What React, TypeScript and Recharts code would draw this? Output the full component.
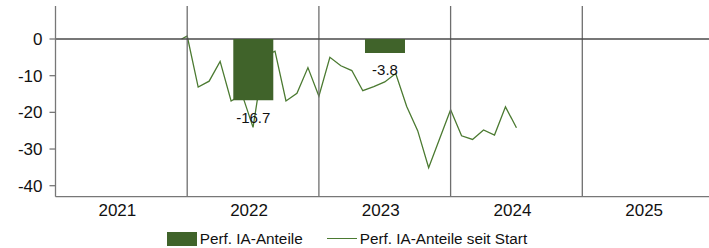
import React from 'react';
import { ComposedChart, Bar, Line, XAxis, YAxis, ReferenceLine, Legend, LabelList } from 'recharts';

// Yearly bars (performance per year)
const years = ['2021', '2022', '2023', '2024', '2025'];
const yearPerf: (number | null)[] = [null, -16.7, -3.8, null, null];

// Cumulative performance since start (month-end dates)
const lineDates = [
  '2021-12-15', '2021-12-31', '2022-01-31', '2022-02-28', '2022-03-31', '2022-04-30', '2022-05-31',
  '2022-06-30', '2022-07-31', '2022-08-31', '2022-09-30', '2022-10-31', '2022-11-30', '2022-12-31',
  '2023-01-31', '2023-02-28', '2023-03-31', '2023-04-30', '2023-05-31', '2023-06-30', '2023-07-31',
  '2023-08-31', '2023-09-30', '2023-10-31', '2023-11-30', '2023-12-31', '2024-01-31', '2024-02-29',
  '2024-03-31', '2024-04-30', '2024-05-31', '2024-06-30',
];
const lineValues = [
  0, 0.8, -13.1, -11.5, -6.1, -16.9, -15.1,
  -24.1, -4.8, -3.3, -16.9, -14.8, -7.8, -15.6,
  -5.0, -7.3, -8.6, -14.1, -13.0, -11.7, -9.4,
  -18.4, -25.0, -35.1, -27.2, -19.3, -26.4, -27.4,
  -24.8, -26.2, -18.5, -24.2,
];

const yTicks = [0, -10, -20, -30, -40];
const yDomain = [-43, 9];
const yearBoundaries = [12, 24, 36, 48];
const firstYear = 2021;

const barName = 'Perf. IA-Anteile';
const lineName = 'Perf. IA-Anteile seit Start';

const BAR_COLOR = '#40632a';
const LINE_COLOR = '#4b7a31';
const FONT = '"Liberation Sans", Arial, sans-serif';

const toMonths = (d: string) => {
  const [y, m, day] = d.split('-').map(Number);
  const dim = new Date(y, m, 0).getDate();
  return (y - firstYear) * 12 + (m - 1) + day / dim;
};

const barData = years.map((year, i) => ({ year, perf: yearPerf[i] }));
const lineData = lineDates.map((d, i) => ({ t: toMonths(d), v: lineValues[i] }));

const BarLabel = (props: any) => {
  const { x, y, width, height, value } = props;
  if (value === null || value === undefined) return null;
  const bottom = Math.max(Number(y), Number(y) + Number(height));
  return (
    <text
      x={Number(x) + Number(width) / 2}
      y={bottom + 17}
      textAnchor="middle"
      dominantBaseline="central"
      fontSize={15}
      fontFamily={FONT}
      fill="#111"
    >
      {value}
    </text>
  );
};

const LegendContent = (props: any) => {
  const payload = [...(props.payload || [])].sort(
    (a: any, b: any) => (a.type === 'rect' ? 0 : 1) - (b.type === 'rect' ? 0 : 1)
  );
  return (
    <div
      style={{
        display: 'flex',
        justifyContent: 'center',
        alignItems: 'center',
        height: 15,
        paddingRight: 15,
        fontFamily: FONT,
        fontSize: 15.3,
        color: '#111',
      }}
    >
      {payload.map((p: any, i: number) => (
        <div key={i} style={{ display: 'flex', alignItems: 'center', marginLeft: i > 0 ? 24 : 0 }}>
          {p.type === 'rect' ? (
            <div style={{ width: 30, height: 14, background: p.color, marginRight: 3 }} />
          ) : (
            <div style={{ width: 30, height: 0, borderTop: `1.3px solid ${p.color}`, marginRight: 3 }} />
          )}
          <span style={{ whiteSpace: 'nowrap', lineHeight: '15px' }}>{p.value}</span>
        </div>
      ))}
    </div>
  );
};

export default function App() {
  return (
    <div style={{ position: 'absolute', left: 0, top: 0 }}>
      <ComposedChart
        width={709}
        height={248}
        data={barData}
        margin={{ top: 6, right: -5, bottom: 2, left: 0 }}
        barCategoryGap="35%"
      >
        <XAxis
          xAxisId="year"
          dataKey="year"
          type="category"
          height={34.3}
          tickLine={false}
          axisLine={{ stroke: '#777', strokeWidth: 1.3 }}
          tickMargin={1}
          tick={{ fontSize: 17, fill: '#111', fontFamily: FONT, dx: -4 }}
          interval={0}
        />
        <XAxis
          xAxisId="t"
          dataKey="t"
          type="number"
          domain={[0, 60]}
          allowDataOverflow
          orientation="top"
          height={0}
          hide
        />
        <YAxis
          type="number"
          domain={yDomain}
          ticks={yTicks}
          width={55.5}
          tickSize={6}
          tickMargin={7}
          axisLine={{ stroke: '#777', strokeWidth: 1.3 }}
          tickLine={{ stroke: '#777', strokeWidth: 1.3 }}
          tick={{ fontSize: 17, fill: '#111', fontFamily: FONT }}
          allowDataOverflow
        />
        {yearBoundaries.map((b) => (
          <ReferenceLine key={b} xAxisId="t" x={b} stroke="#6e6e6e" strokeWidth={1.3} />
        ))}
        <ReferenceLine xAxisId="t" y={0} stroke="#4a4a4a" strokeWidth={1.3} />
        <Line
          xAxisId="t"
          data={lineData}
          dataKey="v"
          name={lineName}
          type="linear"
          stroke={LINE_COLOR}
          strokeWidth={1.3}
          dot={false}
          activeDot={false}
          legendType="plainline"
          isAnimationActive={false}
          {...({ zIndex: 300 } as any)}
        />
        <Bar
          xAxisId="year"
          dataKey="perf"
          name={barName}
          fill={BAR_COLOR}
          legendType="rect"
          isAnimationActive={false}
          {...({ zIndex: 450 } as any)}
        >
          <LabelList dataKey="perf" content={BarLabel} />
        </Bar>
        <Legend
          verticalAlign="bottom"
          align="center"
          content={LegendContent}
          wrapperStyle={{ left: 0, width: 709 }}
        />
      </ComposedChart>
    </div>
  );
}
